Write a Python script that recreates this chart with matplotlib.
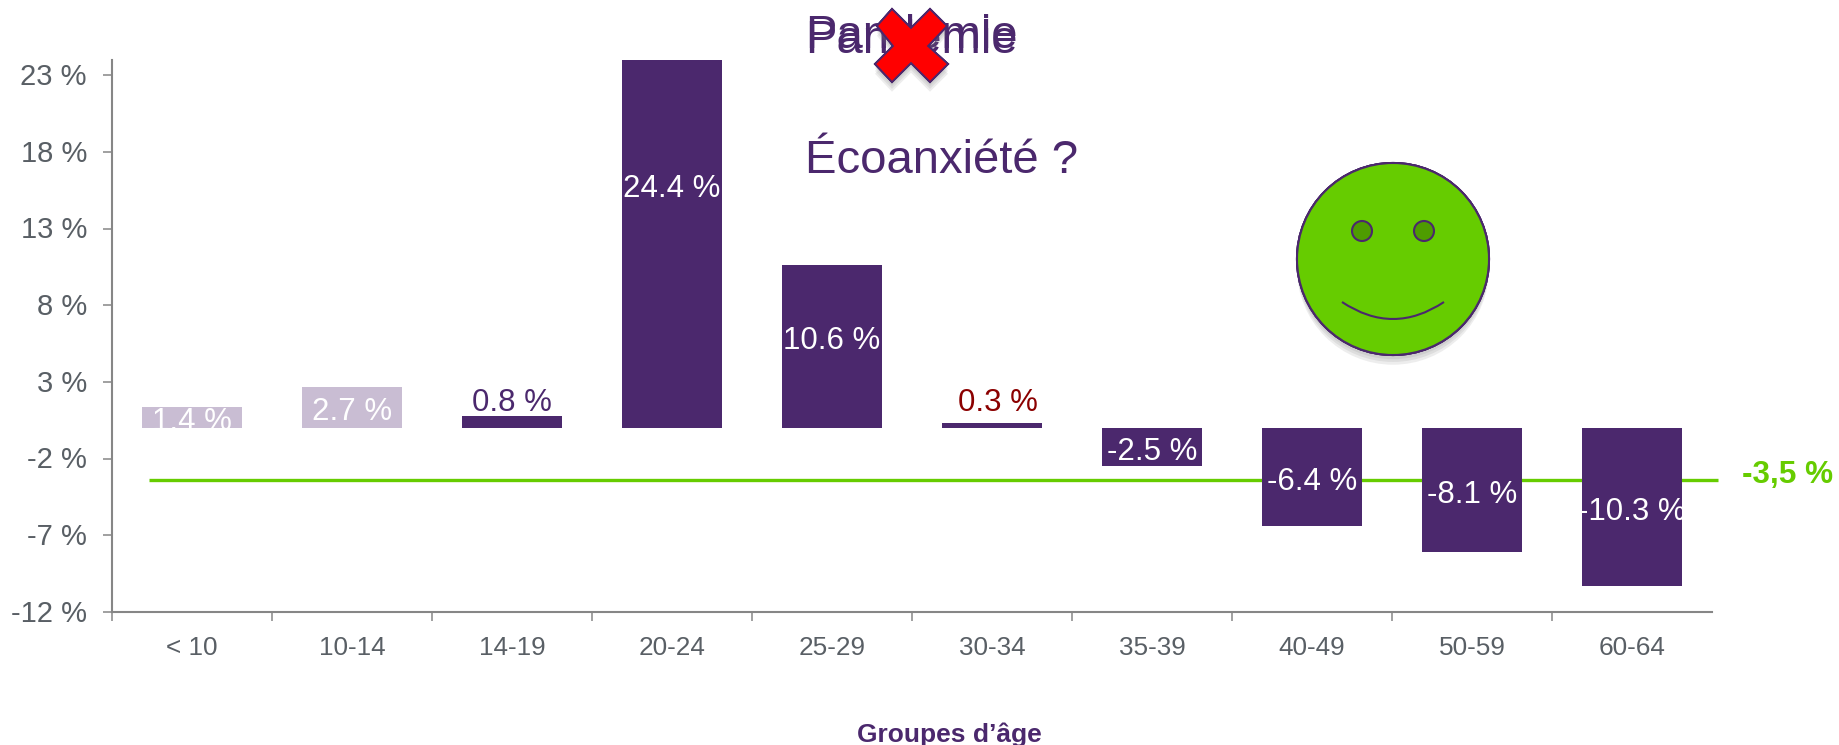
#!/usr/bin/env python
import matplotlib
matplotlib.use('Agg')
import matplotlib.pyplot as plt
import matplotlib.patheffects as pe
from matplotlib.patches import Circle, Polygon, PathPatch
from matplotlib.path import Path
from matplotlib.transforms import Affine2D, ScaledTranslation

plt.rcParams['font.family'] = ['Liberation Sans', 'DejaVu Sans']

groups = ['< 10', '10-14', '14-19', '20-24', '25-29', '30-34', '35-39', '40-49', '50-59', '60-64']
values = [1.4, 2.7, 0.8, 24.4, 10.6, 0.3, -2.5, -6.4, -8.1, -10.3]
mean_value = -3.4
mean_label = '-3,5 %'
yticks = [-12, -7, -2, 3, 8, 13, 18, 23]

PURPLE = '#4B286D'
LIGHT = '#C9BDD3'
GREEN = '#66CC00'
GREY = '#595F65'
AXIS = '#868686'

W, H = 1839, 745
fig = plt.figure(figsize=(W / 100, H / 100), dpi=100)
ax = fig.add_axes([112 / W, (H - 612) / H, 1600 / W, 552 / H])
# pixels from the top left corner, for the shapes pasted over the chart
px = Affine2D().scale(1, -1).translate(0, H)

x = list(range(len(values)))
colors = [LIGHT, LIGHT] + [PURPLE] * 8
bars = ax.bar(x, values, width=0.63, color=colors, zorder=2)

ax.hlines(mean_value, -0.27, 9.54, color=GREEN, lw=2.4, zorder=1, clip_on=False)

for i, (bar, v) in enumerate(zip(bars, values)):
    label = '%.1f %%' % v
    if i in (2, 5):
        # small bars, label sits above
        c = '#8B0000' if i == 5 else PURPLE
        ax.text(i + (0.04 if i == 5 else 0), 1.6, label, color=c, fontsize=22.5, ha='center', va='center', zorder=4)
    else:
        y = v / 2 - 0.33
        if i == 3:
            y = 15.6
        if i == 4:
            y = 5.7
        t = ax.text(i, y, label, color='white', fontsize=22.5, ha='center', va='center', zorder=4)
        t.set_clip_path(bar)

ax.set_xlim(-0.5, 9.5)
ax.set_ylim(-12, 24)
ax.set_yticks(yticks)
ax.set_yticklabels(['%d %%' % t for t in yticks], fontsize=21, color=GREY)
ax.set_xticks(x)
ax.set_xticklabels(groups, fontsize=18.8, color=GREY)
ax.set_xticks([i - 0.5 for i in x], minor=True)
ax.tick_params(axis='x', which='major', length=0, pad=17)
ax.tick_params(axis='x', which='minor', length=6.5, width=1.1, color=AXIS)
ax.tick_params(axis='y', length=6.5, width=1.1, color=AXIS, pad=11.5)
up = ScaledTranslation(0, 1.2 / 100, fig.dpi_scale_trans)
for t in ax.get_yticklabels():
    t.set_transform(t.get_transform() + up)
for s in ['top', 'right']:
    ax.spines[s].set_visible(False)
for s in ['left', 'bottom']:
    ax.spines[s].set_color(AXIS)
    ax.spines[s].set_linewidth(1.5)

fig.text(1742, 475, mean_label, transform=px, color=GREEN, fontsize=22.7, fontweight='bold', va='center')
fig.text(949, 735, 'Groupes d’âge', transform=px, color=PURPLE, fontsize=19, fontweight='bold', ha='center', va='center')

# the overlapping title words and the question
fig.text(805, 53, 'Pandémie', transform=px, color=PURPLE, fontsize=34, va='baseline', zorder=3)
fig.text(805, 48, 'Pandemie', transform=px, color=PURPLE, fontsize=34, va='baseline', zorder=3)
fig.text(805, 173, 'Écoanxiété ?', transform=px, color=PURPLE, fontsize=34, va='baseline', zorder=3)

# soft shadow under the pasted shapes
shadow = [pe.withSimplePatchShadow(offset=(0, -o), shadow_rgbFace='#777777', alpha=0.13) for o in (7, 5, 3)]
shadow.append(pe.Normal())

cross = [(892, 9), (911, 28), (930, 9), (947, 26), (928, 46), (948, 64), (930, 82),
         (911, 63), (892, 82), (875, 64), (893, 46), (877, 26)]
p = Polygon(cross, closed=True, transform=px, facecolor='#FF0000', edgecolor=PURPLE, lw=1.3, zorder=5)
p.set_path_effects(shadow)
fig.add_artist(p)

# smiley
face = Circle((1393, 259), 96, transform=px, facecolor=GREEN, edgecolor=PURPLE, lw=1.5, zorder=5)
face.set_path_effects(shadow)
fig.add_artist(face)
for ex in [1362, 1424]:
    fig.add_artist(Circle((ex, 231), 10, transform=px, facecolor='#4E9C00', edgecolor=PURPLE, lw=1.5, zorder=6))
mouth = Path([(1342, 302), (1393, 336), (1444, 302)], [Path.MOVETO, Path.CURVE3, Path.CURVE3])
fig.add_artist(PathPatch(mouth, transform=px, facecolor='none', edgecolor=PURPLE, lw=1.5, zorder=6))

plt.savefig('out.png', dpi=100)
